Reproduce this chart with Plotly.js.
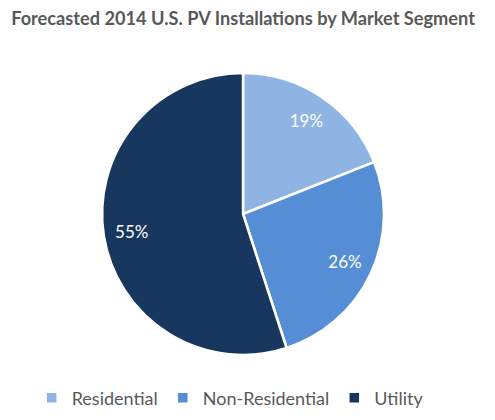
<!DOCTYPE html>
<html><head><meta charset="utf-8">
<script src="https://cdn.plot.ly/plotly-3.0.1.min.js"></script>
<style>html,body{margin:0;padding:0;background:#fff}#c{width:495px;height:420px}</style>
</head><body><div id="c"></div>
<script>
const segments = ["Residential", "Non-Residential", "Utility"];
const shares = [19, 26, 55];
const colors = ["#8EB4E3", "#558ED5", "#17375E"];

const dom = {x: [0.206, 0.776], y: [0.155, 0.826]};
const fontFam = "Lato, 'Open Sans', sans-serif";

Plotly.newPlot("c", [{
  type: "pie",
  labels: segments,
  values: shares,
  sort: false,
  direction: "clockwise",
  rotation: 0,
  textinfo: "none",
  marker: {colors: colors, line: {color: "#ffffff", width: 2.5}},
  domain: dom,
  hoverinfo: "label+percent"
}, {
  type: "pie",
  labels: segments,
  values: shares,
  sort: false,
  direction: "clockwise",
  rotation: 0,
  hole: 0.6,
  showlegend: false,
  textinfo: "percent",
  textposition: "inside",
  insidetextorientation: "horizontal",
  textfont: {family: fontFam, size: 17, color: "#ffffff"},
  marker: {colors: ["rgba(0,0,0,0)", "rgba(0,0,0,0)", "rgba(0,0,0,0)"], line: {width: 0}},
  domain: dom,
  hoverinfo: "skip"
}], {
  width: 495, height: 420,
  margin: {l: 0, r: 0, t: 0, b: 0},
  paper_bgcolor: "#ffffff",
  title: {text: "<b>Forecasted 2014 U.S. PV Installations by Market Segment</b>",
    font: {family: fontFam, size: 18.2, color: "#595959"},
    x: 0.491, xanchor: "center", y: 0.955, yanchor: "middle", yref: "paper"},
  showlegend: true,
  legend: {orientation: "h", x: 0.465, xanchor: "center", y: 0.052, yanchor: "middle",
    font: {family: fontFam, size: 18, color: "#595959"},
    itemwidth: 30, traceorder: "normal"}
}, {displayModeBar: false, staticPlot: true});
</script></body></html>
